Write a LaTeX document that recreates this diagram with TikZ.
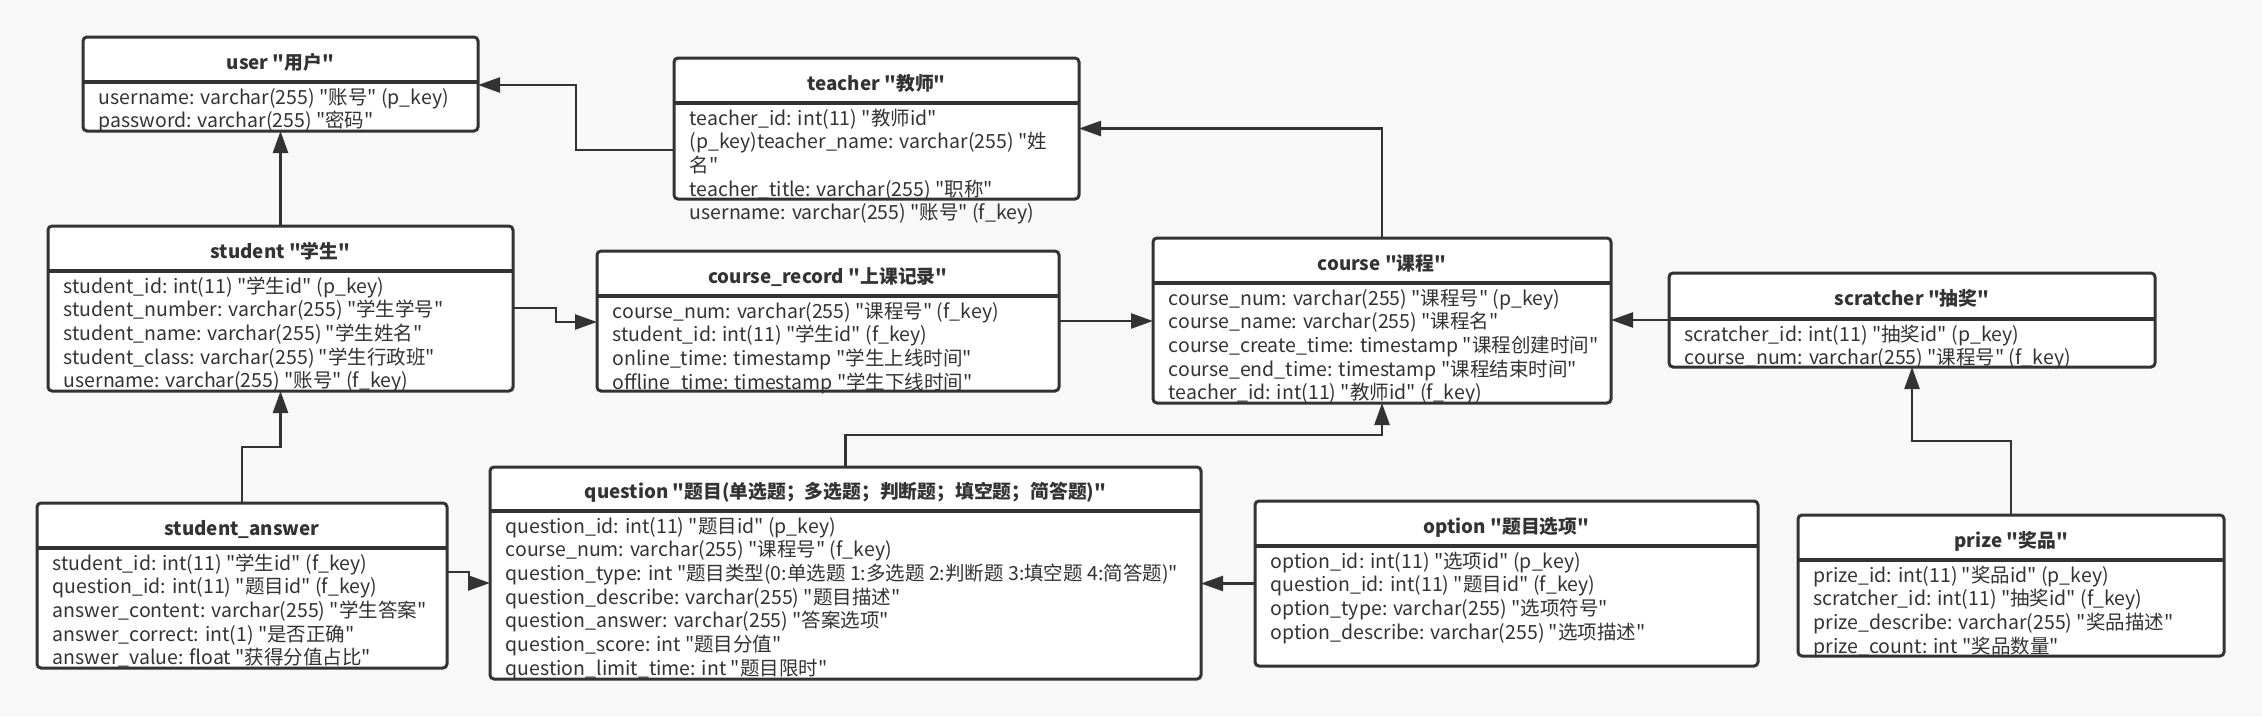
\documentclass[tikz,border=0pt]{standalone}
\usepackage{fontspec}
\setmainfont{Noto Sans CJK SC}[Ligatures=TeXOff]
\usetikzlibrary{arrows.meta}
\definecolor{bg}{HTML}{F8F8F8}
\definecolor{ink}{HTML}{333333}
\tikzset{
  box/.style={draw=ink, fill=white, line width=3pt, rounded corners=4pt, inner sep=0pt, outer sep=0pt, anchor=north west},
  hdr/.style={draw=ink, line width=3.5pt},
  ttl/.style={font=\fontsize{18.8}{24}\selectfont\bfseries, text=ink, inner sep=0pt, anchor=base},
  attr/.style={font=\fontsize{19.5}{24}\selectfont, text=ink, inner sep=0pt, anchor=base west},
  conn/.style={draw=ink, line width=2.5pt, -{Triangle[length=22pt,width=15pt]}},
}
% #1 name, #2 x1, #3 y1, #4 x2, #5 y2, #6 header line y, #7 title, #8 rows
\newcommand\ent[8]{%
  \node[box, minimum width={#4-#2}, minimum height={#5-#3}] (#1) at (#2,#3) {};
  \draw[hdr] (#1.west |- 0,#6) -- (#1.east |- 0,#6);
  \node[ttl] (#1-title) at ({(#2+#4)/2},{(#3+#6)/2+9.5}) {#7};
  \foreach \rowtext [count=\k] in {#8} {\node[attr] (#1-row\k) at ({#2+15.5},{#6+22+(\k-1)*23.7}) {\rowtext};}
}
\begin{document}
\begin{tikzpicture}[x=1pt,y=-1pt]
\fill[bg] (0,0) rectangle (2262,716);
\useasboundingbox (0,0) rectangle (2262,716);

\ent{user}{83}{37}{478}{131}{82}{user "用户"}{
  {username: varchar(255) "账号" (p\_key)},
  {password: varchar(255) "密码"}}
\ent{teacher}{674}{58}{1079}{199}{103}{teacher "教师"}{
  {teacher\_id: int(11) "教师id"},
  {(p\_key)teacher\_name: varchar(255) "姓},
  {名"},
  {teacher\_title: varchar(255) "职称"},
  {username: varchar(255) "账号" (f\_key)}}
\ent{student}{48}{226}{513}{391}{271}{student "学生"}{
  {student\_id: int(11) "学生id" (p\_key)},
  {student\_number: varchar(255) "学生学号"},
  {student\_name: varchar(255) "学生姓名"},
  {student\_class: varchar(255) "学生行政班"},
  {username: varchar(255) "账号" (f\_key)}}
\ent{courserecord}{597}{251}{1059}{391}{296}{course\_record "上课记录"}{
  {course\_num: varchar(255) "课程号" (f\_key)},
  {student\_id: int(11) "学生id" (f\_key)},
  {online\_time: timestamp "学生上线时间"},
  {offline\_time: timestamp "学生下线时间"}}
\ent{course}{1153}{238}{1611}{403}{283}{course "课程"}{
  {course\_num: varchar(255) "课程号" (p\_key)},
  {course\_name: varchar(255) "课程名"},
  {course\_create\_time: timestamp "课程创建时间"},
  {course\_end\_time: timestamp "课程结束时间"},
  {teacher\_id: int(11) "教师id" (f\_key)}}
\ent{scratcher}{1669}{273}{2155}{367}{319}{scratcher "抽奖"}{
  {scratcher\_id: int(11) "抽奖id" (p\_key)},
  {course\_num: varchar(255) "课程号" (f\_key)}}
\ent{studentanswer}{37}{503}{447}{668}{548}{student\_answer}{
  {student\_id: int(11) "学生id" (f\_key)},
  {question\_id: int(11) "题目id" (f\_key)},
  {answer\_content: varchar(255) "学生答案"},
  {answer\_correct: int(1) "是否正确"},
  {answer\_value: float "获得分值占比"}}
\ent{question}{490}{467}{1201}{679}{511}{question "题目(单选题；多选题；判断题；填空题；简答题)"}{
  {question\_id: int(11) "题目id" (p\_key)},
  {course\_num: varchar(255) "课程号" (f\_key)},
  {question\_type: int "题目类型(0:单选题 1:多选题 2:判断题 3:填空题 4:简答题)"},
  {question\_describe: varchar(255) "题目描述"},
  {question\_answer: varchar(255) "答案选项"},
  {question\_score: int "题目分值"},
  {question\_limit\_time: int "题目限时"}}
\ent{option}{1255}{501}{1758}{666}{546}{option "题目选项"}{
  {option\_id: int(11) "选项id" (p\_key)},
  {question\_id: int(11) "题目id" (f\_key)},
  {option\_type: varchar(255) "选项符号"},
  {option\_describe: varchar(255) "选项描述"}}
\ent{prize}{1798}{515}{2224}{656}{560}{prize "奖品"}{
  {prize\_id: int(11) "奖品id" (p\_key)},
  {scratcher\_id: int(11) "抽奖id" (f\_key)},
  {prize\_describe: varchar(255) "奖品描述"},
  {prize\_count: int "奖品数量"}}

% connectors
\draw[conn] (teacher.west |- 0,150) -| (576,85) -- (user.east |- 0,85);
\draw[conn] (student.north) -- (user.south);
\draw[conn] (student.east |- 0,308) -| (556,322) -- (courserecord.west |- 0,322);
\draw[conn] (courserecord.east) -- (courserecord.east -| course.west);
\draw[conn] (course.north) |- (teacher.east);
\draw[conn] (scratcher.west) -- (scratcher.west -| course.east);
\draw[conn] (prize.north) -- ++(0,-74) -| (scratcher.south);
\draw[conn] (question.north) -- ++(0,-32) -| (course.south);
\draw[conn] (option.west) -- (option.west -| question.east);
\draw[conn] (studentanswer.north) -- ++(0,-56) -| (student.south);
\draw[conn] (studentanswer.east |- 0,572) -| (469,583) -- (question.west |- 0,583);
\end{tikzpicture}
\end{document}
